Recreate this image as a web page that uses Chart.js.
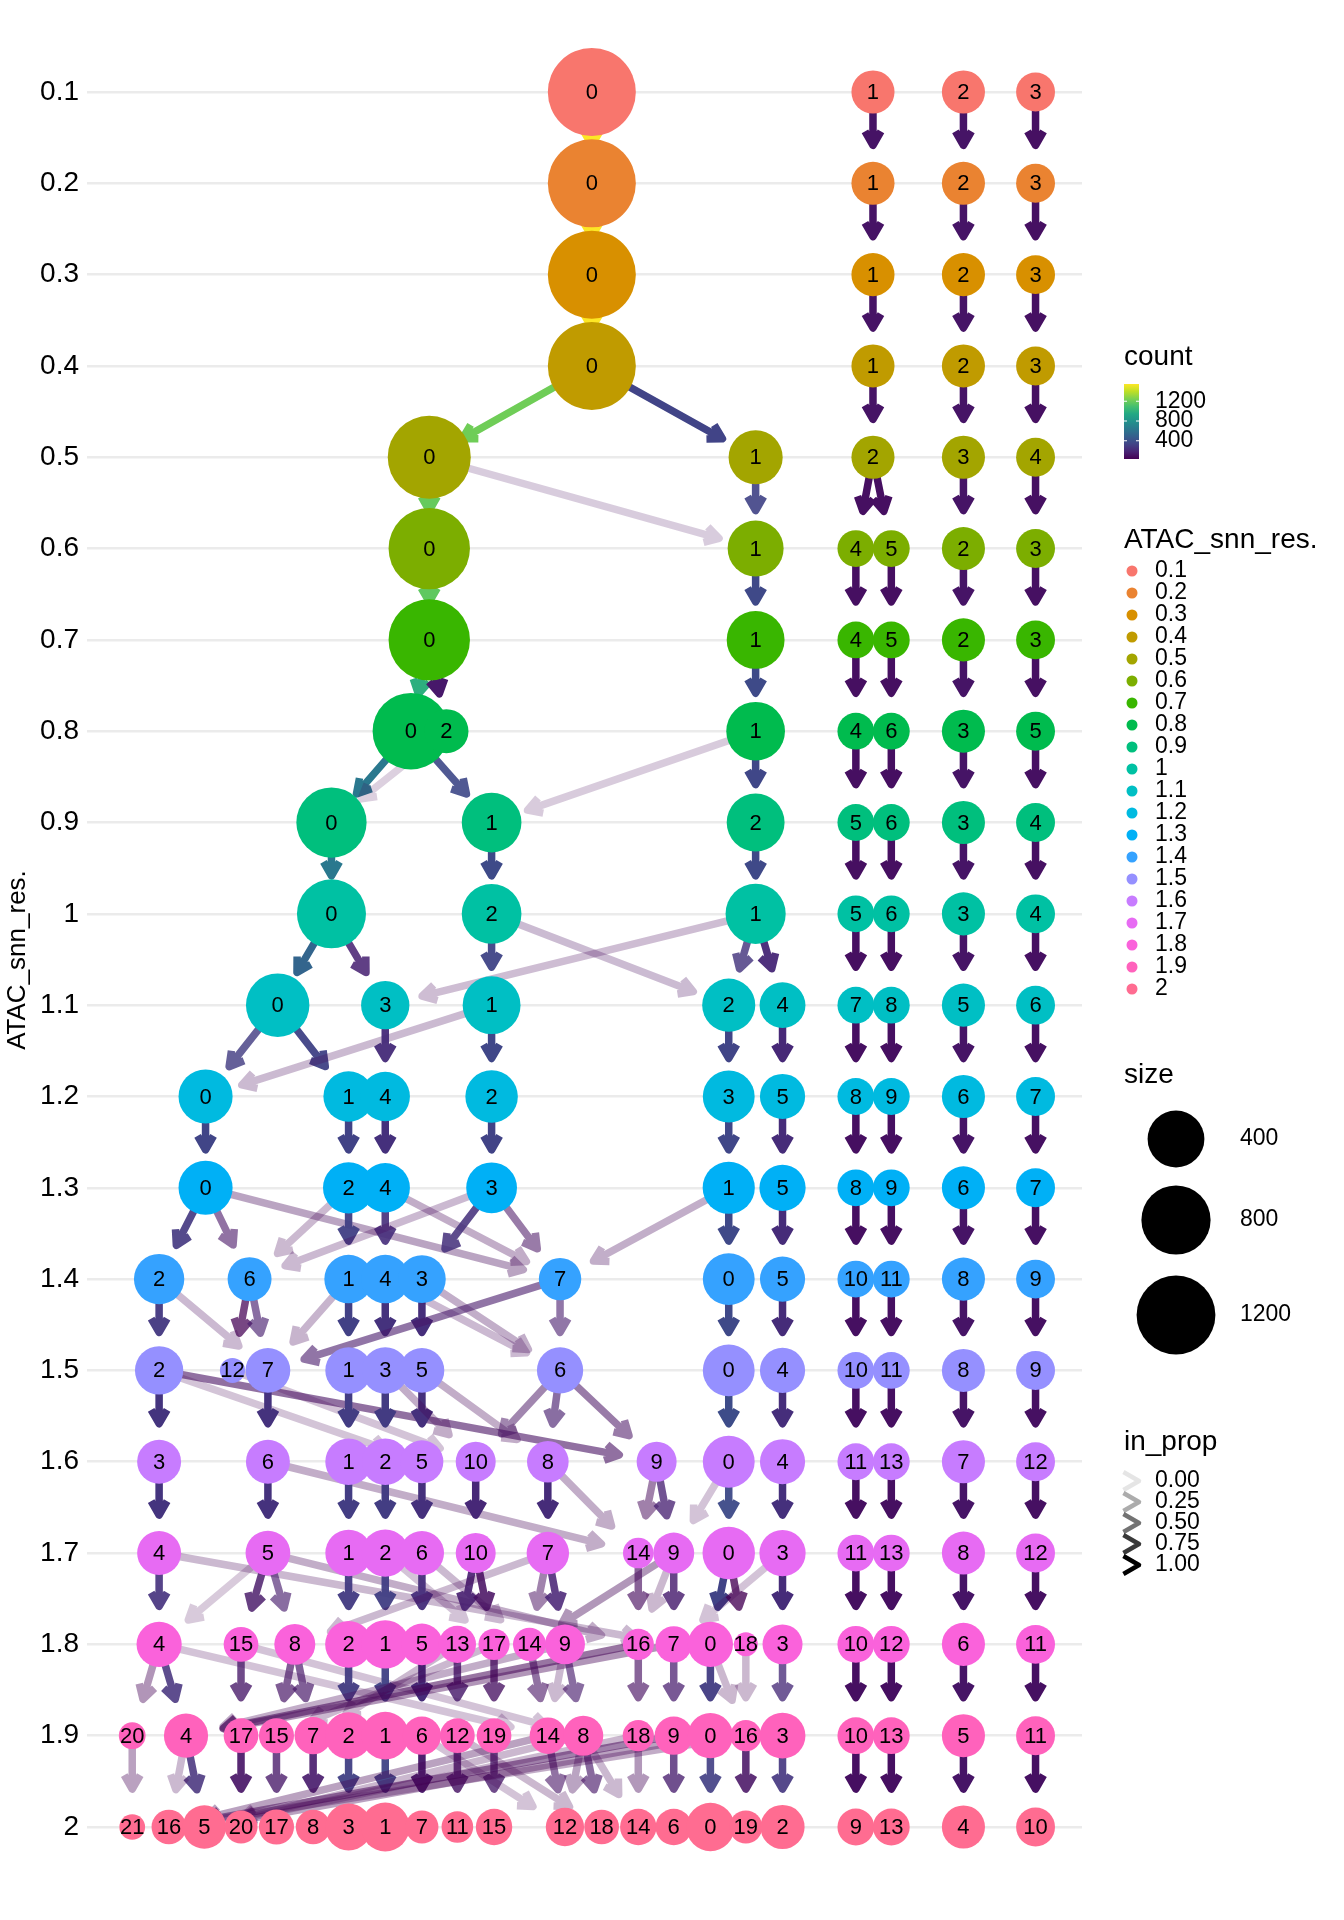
<!DOCTYPE html>
<html>
<head>
<meta charset="utf-8">
<title>clustree ATAC_snn_res.</title>
<script src="https://cdn.jsdelivr.net/npm/chart.js@4.4.1/dist/chart.umd.min.js"></script>
<style>
  html, body { margin: 0; padding: 0; background: #ffffff; }
  #chart { display: block; }
</style>
</head>
<body>
<canvas id="chart" width="1344" height="1920"></canvas>
<script>
const FONT = '"Liberation Sans", Arial, Helvetica, sans-serif';

// resolutions (rows of the tree) and their tick labels
const resolutions = [0.1, 0.2, 0.3, 0.4, 0.5, 0.6, 0.7, 0.8, 0.9, 1, 1.1, 1.2, 1.3, 1.4, 1.5, 1.6, 1.7, 1.8, 1.9, 2];
const resLabels = ['0.1', '0.2', '0.3', '0.4', '0.5', '0.6', '0.7', '0.8', '0.9', '1', '1.1', '1.2', '1.3', '1.4', '1.5', '1.6', '1.7', '1.8', '1.9', '2'];

// nodes per resolution: [cluster, layout x, cells]
const nodeRows = [
  [[0, 484, 1549], [1, 714, 294], [2, 788, 294], [3, 847, 221]],
  [[0, 484, 1549], [1, 714, 294], [2, 788, 294], [3, 847, 221]],
  [[0, 484, 1549], [1, 714, 294], [2, 788, 294], [3, 847, 221]],
  [[0, 484, 1549], [1, 714, 294], [2, 788, 294], [3, 847, 221]],
  [[0, 351, 1368], [1, 618, 522], [2, 714, 294], [3, 788, 294], [4, 847, 221]],
  [[0, 351, 1310], [1, 618, 566], [4, 700, 187], [5, 729, 187], [2, 788, 294], [3, 847, 221]],
  [[0, 351, 1310], [1, 618, 612], [4, 700, 187], [5, 729, 187], [2, 788, 294], [3, 847, 221]],
  [[0, 336, 1150], [2, 365, 314], [1, 618, 632], [4, 700, 187], [6, 729, 187], [3, 788, 294], [5, 847, 221]],
  [[0, 271, 950], [1, 402, 658], [2, 618, 612], [5, 700, 187], [6, 729, 187], [3, 788, 294], [4, 847, 221]],
  [[0, 271, 914], [2, 402, 658], [1, 618, 669], [5, 700, 187], [6, 729, 187], [3, 788, 294], [4, 847, 221]],
  [[0, 227, 756], [3, 315, 396], [1, 402, 612], [2, 596, 499], [4, 640, 346], [7, 700, 187], [8, 729, 187], [5, 788, 294], [6, 847, 221]],
  [[0, 168, 522], [1, 285, 439], [4, 315, 417], [2, 402, 485], [3, 596, 471], [5, 640, 333], [8, 700, 187], [9, 729, 187], [6, 788, 294], [7, 847, 221]],
  [[0, 168, 522], [2, 285, 457], [4, 315, 417], [3, 402, 448], [1, 596, 478], [5, 640, 354], [8, 700, 187], [9, 729, 187], [6, 788, 294], [7, 847, 221]],
  [[2, 130, 439], [6, 204, 310], [1, 285, 400], [4, 315, 400], [3, 345, 383], [7, 458, 282], [0, 596, 471], [5, 640, 333], [10, 700, 187], [11, 729, 187], [8, 788, 294], [9, 847, 221]],
  [[2, 130, 396], [12, 190, 32], [7, 219, 325], [1, 285, 360], [3, 315, 360], [5, 345, 325], [6, 458, 354], [0, 596, 471], [4, 640, 333], [10, 700, 187], [11, 729, 187], [8, 788, 294], [9, 847, 221]],
  [[3, 130, 310], [6, 219, 310], [1, 285, 360], [2, 315, 360], [5, 345, 290], [10, 389, 239], [8, 448, 268], [9, 537, 239], [0, 596, 471], [4, 640, 333], [11, 700, 187], [13, 729, 187], [7, 788, 294], [12, 847, 221]],
  [[4, 130, 310], [5, 219, 325], [1, 285, 360], [2, 315, 375], [6, 345, 314], [10, 389, 239], [7, 448, 282], [14, 522, 98], [9, 551, 256], [0, 596, 485], [3, 640, 354], [11, 700, 187], [13, 729, 187], [8, 788, 294], [12, 847, 221]],
  [[4, 130, 333], [15, 197, 155], [8, 241, 256], [2, 285, 366], [1, 315, 396], [5, 345, 268], [13, 374, 194], [17, 404, 105], [14, 433, 131], [9, 462, 239], [16, 522, 105], [7, 551, 181], [0, 581, 333], [18, 610, 21], [3, 640, 239], [10, 700, 187], [12, 729, 187], [6, 788, 294], [11, 847, 221]],
  [[20, 108, 51], [4, 152, 314], [17, 197, 155], [15, 226, 161], [7, 256, 194], [2, 285, 366], [1, 315, 383], [6, 345, 211], [12, 374, 155], [19, 404, 155], [14, 448, 181], [8, 477, 239], [18, 522, 105], [9, 551, 211], [0, 581, 333], [16, 610, 105], [3, 640, 346], [10, 700, 187], [13, 729, 187], [5, 788, 294], [11, 847, 221]],
  [[21, 108, 39], [16, 138, 155], [5, 167, 302], [20, 197, 131], [17, 226, 161], [8, 256, 155], [3, 285, 366], [1, 315, 405], [7, 345, 131], [11, 374, 111], [15, 404, 181], [12, 462, 211], [18, 492, 155], [14, 522, 181], [6, 551, 181], [0, 581, 396], [19, 610, 131], [2, 640, 314], [9, 700, 187], [13, 729, 187], [4, 788, 294], [10, 847, 221]]
];

// edges from row i to row i+1: [from cluster, to cluster, count, in_prop]
const edgeRows = [
  [[0, 0, 1549, 1], [1, 1, 110, 1], [2, 2, 115, 1], [3, 3, 95, 1]],
  [[0, 0, 1549, 1], [1, 1, 110, 1], [2, 2, 115, 1], [3, 3, 95, 1]],
  [[0, 0, 1549, 1], [1, 1, 110, 1], [2, 2, 115, 1], [3, 3, 95, 1]],
  [[0, 0, 1215, 1], [0, 1, 335, 1], [1, 2, 110, 1], [2, 3, 115, 1], [3, 4, 95, 1]],
  [[0, 0, 1190, 1], [0, 1, 60, 0.12], [1, 1, 330, 0.9], [2, 4, 90, 1], [2, 5, 90, 1], [3, 2, 115, 1], [4, 3, 95, 1]],
  [[0, 0, 1170, 1], [1, 1, 360, 1], [4, 4, 90, 1], [5, 5, 90, 1], [2, 2, 115, 1], [3, 3, 95, 1]],
  [[0, 0, 990, 1], [0, 2, 130, 1], [1, 1, 370, 1], [4, 4, 90, 1], [5, 6, 90, 1], [2, 3, 115, 1], [3, 5, 95, 1]],
  [[0, 0, 640, 1], [0, 1, 360, 0.9], [2, 0, 40, 0.1], [1, 1, 45, 0.12], [1, 2, 350, 1], [4, 5, 90, 1], [6, 6, 90, 1], [3, 3, 115, 1], [5, 4, 95, 1]],
  [[0, 0, 640, 1], [1, 2, 370, 1], [2, 1, 360, 1], [5, 5, 90, 1], [6, 6, 90, 1], [3, 3, 115, 1], [4, 4, 95, 1]],
  [[0, 0, 520, 1], [0, 3, 170, 0.85], [2, 1, 340, 0.95], [2, 2, 70, 0.2], [1, 3, 50, 0.18], [1, 2, 260, 0.8], [1, 4, 200, 0.95], [5, 7, 90, 1], [6, 8, 90, 1], [3, 5, 115, 1], [4, 6, 95, 1]],
  [[0, 0, 300, 0.8], [0, 1, 330, 0.95], [1, 0, 60, 0.2], [3, 4, 220, 0.95], [1, 2, 350, 1], [2, 3, 340, 1], [4, 5, 200, 1], [7, 8, 90, 1], [8, 9, 90, 1], [5, 6, 115, 1], [6, 7, 95, 1]],
  [[0, 0, 340, 1], [1, 2, 330, 1], [4, 4, 240, 1], [2, 3, 330, 1], [3, 1, 350, 1], [5, 5, 220, 1], [8, 8, 90, 1], [9, 9, 90, 1], [6, 6, 115, 1], [7, 7, 95, 1]],
  [[0, 2, 280, 0.9], [0, 6, 110, 0.55], [0, 7, 60, 0.3], [2, 1, 320, 0.95], [2, 6, 45, 0.2], [4, 4, 230, 0.9], [4, 7, 45, 0.25], [3, 6, 50, 0.2], [3, 3, 240, 0.85], [3, 7, 90, 0.5], [1, 7, 50, 0.25], [1, 0, 360, 1], [5, 5, 220, 1], [8, 10, 90, 1], [9, 11, 90, 1], [6, 8, 115, 1], [7, 9, 95, 1]],
  [[2, 2, 280, 0.95], [2, 7, 50, 0.2], [6, 12, 35, 0.7], [6, 7, 150, 0.6], [1, 7, 45, 0.22], [1, 1, 320, 1], [4, 3, 250, 1], [3, 5, 230, 1], [4, 6, 50, 0.2], [3, 6, 55, 0.25], [7, 7, 130, 0.55], [7, 6, 140, 0.55], [0, 0, 360, 1], [5, 4, 220, 1], [10, 10, 90, 1], [11, 11, 90, 1], [8, 8, 115, 1], [9, 9, 95, 1]],
  [[2, 3, 260, 1], [2, 9, 90, 0.55], [2, 5, 40, 0.15], [12, 10, 31, 0.15], [7, 6, 250, 1], [1, 1, 300, 1], [3, 2, 290, 1], [5, 5, 240, 1], [3, 10, 40, 0.25], [5, 8, 40, 0.25], [6, 10, 90, 0.45], [6, 8, 150, 0.6], [6, 9, 90, 0.5], [0, 0, 380, 1], [4, 4, 230, 1], [10, 11, 90, 1], [11, 13, 90, 1], [8, 7, 115, 1], [9, 12, 95, 1]],
  [[3, 4, 260, 1], [6, 5, 250, 1], [6, 14, 35, 0.25], [1, 1, 300, 1], [2, 2, 300, 1], [5, 6, 240, 1], [10, 10, 200, 1], [8, 7, 220, 1], [8, 14, 35, 0.25], [9, 14, 45, 0.45], [9, 9, 170, 0.75], [0, 0, 370, 0.95], [0, 9, 35, 0.15], [4, 3, 240, 1], [11, 11, 90, 1], [13, 13, 90, 1], [7, 8, 115, 1], [12, 12, 95, 1]],
  [[4, 4, 250, 0.9], [4, 7, 40, 0.2], [5, 15, 120, 0.8], [5, 8, 140, 0.6], [5, 4, 31, 0.12], [5, 16, 35, 0.25], [1, 2, 290, 0.95], [2, 1, 310, 0.95], [2, 17, 31, 0.15], [6, 5, 230, 0.95], [6, 14, 35, 0.2], [10, 13, 160, 0.9], [10, 17, 90, 0.85], [7, 14, 70, 0.45], [7, 9, 180, 0.85], [7, 8, 40, 0.2], [14, 16, 70, 0.6], [9, 16, 31, 0.2], [9, 7, 150, 0.8], [9, 14, 45, 0.35], [0, 0, 330, 1], [0, 18, 31, 0.75], [3, 3, 220, 1], [3, 7, 31, 0.15], [11, 10, 90, 1], [13, 12, 90, 1], [8, 6, 115, 1], [12, 11, 95, 1]],
  [[4, 4, 250, 0.85], [4, 20, 31, 0.35], [4, 14, 31, 0.15], [15, 17, 120, 0.75], [15, 8, 31, 0.15], [8, 15, 110, 0.65], [8, 7, 120, 0.65], [2, 2, 300, 0.95], [1, 1, 330, 0.95], [5, 6, 220, 1], [13, 12, 130, 0.8], [13, 7, 31, 0.2], [17, 19, 90, 0.75], [17, 15, 31, 0.2], [14, 14, 100, 0.55], [9, 8, 140, 0.6], [9, 14, 40, 0.2], [9, 4, 35, 0.25], [16, 18, 80, 0.6], [16, 4, 40, 0.5], [7, 9, 150, 0.7], [7, 4, 31, 0.35], [0, 0, 300, 0.95], [0, 16, 31, 0.2], [18, 16, 31, 0.2], [3, 3, 210, 0.75], [10, 10, 90, 1], [12, 13, 90, 1], [6, 5, 115, 1], [11, 11, 95, 1]],
  [[20, 21, 31, 0.3], [4, 5, 240, 0.85], [4, 16, 35, 0.2], [17, 20, 110, 0.9], [15, 17, 120, 0.75], [7, 8, 140, 0.9], [2, 3, 320, 0.95], [1, 1, 340, 0.95], [6, 7, 120, 0.95], [12, 11, 100, 0.8], [19, 15, 130, 0.75], [14, 12, 110, 0.55], [8, 18, 120, 0.6], [8, 14, 40, 0.2], [8, 12, 60, 0.3], [18, 14, 55, 0.35], [9, 6, 150, 0.75], [0, 0, 310, 0.9], [16, 19, 100, 0.85], [3, 2, 270, 0.9], [9, 16, 45, 0.45], [0, 5, 35, 0.3], [16, 16, 31, 0.25], [18, 5, 31, 0.2], [14, 16, 35, 0.3], [8, 5, 31, 0.2], [12, 18, 31, 0.2], [6, 12, 31, 0.15], [10, 9, 90, 1], [13, 13, 90, 1], [5, 4, 115, 1], [11, 10, 95, 1]]
];

// legend breaks
const countBreaks = [400, 800, 1200];
const sizeBreaks = [400, 800, 1200];
const inPropBreaks = [0, 0.25, 0.5, 0.75, 1];
const inPropLabels = ['0.00', '0.25', '0.50', '0.75', '1.00'];

// ggplot hue palette for 20 levels
const resColours = ['#F8766D', '#EA8331', '#D89000', '#C09B00', '#A3A500', '#7CAE00', '#39B600', '#00BB4E', '#00BF7D', '#00C1A3',
                    '#00BFC4', '#00BAE0', '#00B0F6', '#35A2FF', '#9590FF', '#C77CFF', '#E76BF3', '#FA62DB', '#FF62BC', '#FF6C91'];
const viridisStops = ['#440154', '#482475', '#414487', '#355f8d', '#2a788e', '#21918c', '#22a884', '#44bf70', '#7ad151', '#bddf26', '#fde725'];

function hexToRgb(h) {
  const n = parseInt(h.slice(1), 16);
  return [(n >> 16) & 255, (n >> 8) & 255, n & 255];
}
function viridis(t) {
  t = Math.max(0, Math.min(1, t));
  const s = t * (viridisStops.length - 1);
  const i = Math.min(viridisStops.length - 2, Math.floor(s));
  const f = s - i;
  const a = hexToRgb(viridisStops[i]), b = hexToRgb(viridisStops[i + 1]);
  return a.map((v, k) => Math.round(v + (b[k] - v) * f));
}

// size scale: area linear in cells between smallest and largest node
const allCells = nodeRows.flat().map(n => n[2]);
const cellsMin = Math.min(...allCells), cellsMax = Math.max(...allCells);
const R_MIN = 12, R_MAX = 44;
function nodeRadius(cells) {
  const t = (cells - cellsMin) / (cellsMax - cellsMin);
  return Math.sqrt(R_MIN * R_MIN + t * (R_MAX * R_MAX - R_MIN * R_MIN));
}

const allCounts = edgeRows.flat().map(e => e[2]);
const countMin = Math.min(...allCounts), countMax = Math.max(...allCounts);

const nodeIndex = {};
nodeRows.forEach((row, i) => row.forEach(n => { nodeIndex[i + ':' + n[0]] = n; }));

const END_CAP = 38, HEAD_LEN = 16, EDGE_W = 7.5;

function arrowPath(ctx, x0, y0, x1, y1, endCap, headLen, withShaft) {
  const dx = x1 - x0, dy = y1 - y0, len = Math.hypot(dx, dy);
  const ux = dx / len, uy = dy / len;
  const tx = x1 - ux * endCap, ty = y1 - uy * endCap;
  const a = Math.PI / 6, c = Math.cos(a), s = Math.sin(a);
  const bx = -ux, by = -uy;
  const w1x = tx + headLen * (bx * c - by * s), w1y = ty + headLen * (bx * s + by * c);
  const w2x = tx + headLen * (bx * c + by * s), w2y = ty + headLen * (-bx * s + by * c);
  if (withShaft) { ctx.moveTo(x0, y0); ctx.lineTo(tx, ty); }
  ctx.moveTo(w1x, w1y); ctx.lineTo(tx, ty); ctx.lineTo(w2x, w2y);
}

// pin the panel: row 0.1 sits at y=92, row 2 at y=1827, layout x 71..885 spans 87..1082
const panelPlugin = {
  id: 'panelPin',
  afterLayout(chart) {
    const y = chart.scales.y, x = chart.scales.x;
    const unit = (1827 - 92) / (resolutions[resolutions.length - 1] - resolutions[0]);
    y.min = resolutions[0] - (92 - y.top) / unit;
    y.max = resolutions[resolutions.length - 1] + (y.bottom - 1827) / unit;
    y.configure();
    const xu = (1082 - 87) / (885 - 71);
    x.min = 71 - (87 - x.left) / xu;
    x.max = 885 + (x.right - 1082) / xu;
    x.configure();
  }
};

const edgePlugin = {
  id: 'treeEdges',
  beforeDatasetsDraw(chart) {
    const { ctx, scales: { x, y } } = chart;
    ctx.save();
    ctx.lineJoin = 'round';
    ctx.lineCap = 'butt';
    ctx.lineWidth = EDGE_W;
    edgeRows.forEach((row, i) => {
      row.forEach(([from, to, count, inProp]) => {
        const p = nodeIndex[i + ':' + from], q = nodeIndex[(i + 1) + ':' + to];
        if (!p || !q) return;
        const x0 = x.getPixelForValue(p[1]), y0 = y.getPixelForValue(resolutions[i]);
        const x1 = x.getPixelForValue(q[1]), y1 = y.getPixelForValue(resolutions[i + 1]);
        const rgb = viridis((count - countMin) / (countMax - countMin));
        const alpha = 0.1 + 0.9 * inProp;
        ctx.strokeStyle = `rgba(${rgb[0]},${rgb[1]},${rgb[2]},${alpha})`;
        ctx.beginPath();
        arrowPath(ctx, x0, y0, x1, y1, END_CAP, HEAD_LEN, true);
        ctx.stroke();
      });
    });
    ctx.restore();
  }
};

const labelPlugin = {
  id: 'nodeLabels',
  afterDatasetsDraw(chart) {
    const ctx = chart.ctx;
    ctx.save();
    ctx.fillStyle = '#000';
    ctx.font = `22px ${FONT}`;
    ctx.textAlign = 'center';
    ctx.textBaseline = 'middle';
    chart.data.datasets.forEach((ds, i) => {
      chart.getDatasetMeta(i).data.forEach((pt, j) => {
        ctx.fillText(String(ds.data[j].cluster), pt.x, pt.y + 1);
      });
    });
    ctx.restore();
  }
};

const legendPlugin = {
  id: 'sideLegends',
  afterDraw(chart) {
    const ctx = chart.ctx;
    ctx.save();
    ctx.textAlign = 'left';
    ctx.textBaseline = 'middle';

    // count colourbar
    ctx.fillStyle = '#000';
    ctx.font = `28px ${FONT}`;
    ctx.fillText('count', 1124, 357);
    const barX = 1124, barW = 15, barTop = 384, barBot = 459;
    const grad = ctx.createLinearGradient(0, barBot, 0, barTop);
    viridisStops.forEach((c, i) => grad.addColorStop(i / (viridisStops.length - 1), c));
    ctx.fillStyle = grad;
    ctx.fillRect(barX, barTop, barW, barBot - barTop);
    ctx.font = `23px ${FONT}`;
    countBreaks.forEach(v => {
      const yy = barBot - (v - countMin) / (countMax - countMin) * (barBot - barTop);
      ctx.strokeStyle = '#ffffff';
      ctx.lineWidth = 1;
      ctx.beginPath();
      ctx.moveTo(barX, yy); ctx.lineTo(barX + 3, yy);
      ctx.moveTo(barX + barW - 3, yy); ctx.lineTo(barX + barW, yy);
      ctx.stroke();
      ctx.fillStyle = '#000';
      ctx.fillText(String(v), 1155, yy);
    });

    // resolution colours
    ctx.font = `28px ${FONT}`;
    ctx.fillText('ATAC_snn_res.', 1124, 540);
    ctx.font = `23px ${FONT}`;
    resLabels.forEach((lab, i) => {
      const yy = 571 + i * 22;
      ctx.fillStyle = resColours[i];
      ctx.beginPath();
      ctx.arc(1132, yy, 5.5, 0, Math.PI * 2);
      ctx.fill();
      ctx.fillStyle = '#000';
      ctx.fillText(lab, 1155, yy);
    });

    // size
    ctx.font = `28px ${FONT}`;
    ctx.fillText('size', 1124, 1075);
    const keyR = [28.4, 34.6, 39.4], keyY = [1139, 1220, 1315];
    ctx.font = `23px ${FONT}`;
    sizeBreaks.forEach((v, i) => {
      ctx.fillStyle = '#000';
      ctx.beginPath();
      ctx.arc(1176, keyY[i], keyR[i], 0, Math.PI * 2);
      ctx.fill();
      ctx.fillText(String(v), 1240, keyY[i]);
    });

    // in_prop
    ctx.font = `28px ${FONT}`;
    ctx.fillText('in_prop', 1124, 1442);
    ctx.font = `23px ${FONT}`;
    ctx.lineJoin = 'round';
    ctx.lineWidth = 4.5;
    inPropBreaks.forEach((v, i) => {
      const yy = 1481 + i * 21;
      ctx.strokeStyle = `rgba(0,0,0,${0.1 + 0.9 * v})`;
      ctx.beginPath();
      arrowPath(ctx, 1100, yy, 1139, yy, 0, 18, false);
      ctx.stroke();
      ctx.fillStyle = '#000';
      ctx.fillText(inPropLabels[i], 1155, yy);
    });
    ctx.restore();
  }
};

Chart.defaults.font.family = FONT;

const datasets = resolutions.map((res, i) => ({
  label: resLabels[i],
  data: nodeRows[i].map(([cluster, x, cells]) => ({ x, y: res, cluster, cells })),
  pointBackgroundColor: resColours[i],
  backgroundColor: resColours[i],
  pointBorderWidth: 0,
  pointRadius: ctx => nodeRadius(ctx.raw.cells),
  pointHoverRadius: ctx => nodeRadius(ctx.raw.cells)
}));

new Chart(document.getElementById('chart'), {
  type: 'scatter',
  data: { datasets },
  options: {
    responsive: false,
    animation: false,
    events: [],
    layout: { padding: { left: 0, right: 262, top: 28, bottom: 29 } },
    plugins: { legend: { display: false }, tooltip: { enabled: false } },
    scales: {
      x: { type: 'linear', display: false, min: 71, max: 885 },
      y: {
        type: 'linear',
        reverse: true,
        min: 0.03,
        max: 2.07,
        afterBuildTicks: scale => { scale.ticks = resolutions.map(v => ({ value: v })); },
        afterFit: scale => { scale.width = 87; },
        ticks: {
          autoSkip: false,
          padding: 8,
          color: '#000',
          font: { size: 28 },
          callback: (value, index) => resLabels[index]
        },
        grid: { color: '#ebebeb', lineWidth: 2.5, drawTicks: false },
        border: { display: false },
        title: {
          display: true,
          text: 'ATAC_snn_res.',
          color: '#000',
          font: { size: 26 },
          padding: { top: 2, bottom: 0 }
        }
      }
    }
  },
  plugins: [panelPlugin, edgePlugin, labelPlugin, legendPlugin]
});
</script>
</body>
</html>
